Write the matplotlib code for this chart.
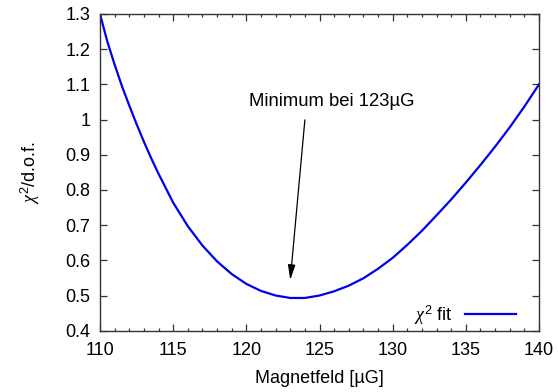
import numpy as np
import matplotlib.pyplot as plt

plt.rcParams['font.family'] = ['Liberation Sans', 'DejaVu Sans']
plt.rcParams['mathtext.fontset'] = 'custom'
plt.rcParams['mathtext.rm'] = 'Liberation Sans'
plt.rcParams['mathtext.it'] = 'Liberation Serif:italic'

# chi^2 per degree of freedom vs. magnetic field
field = [110, 110.5, 111, 111.5, 112, 112.5, 113, 113.5, 114, 115, 116, 117, 118, 119, 120,
         121, 122, 123, 124, 125, 126, 127, 128, 129, 130,
         131, 132, 133, 134, 135, 136, 137, 138, 139, 140]
chi2 = [1.300, 1.222, 1.156, 1.095, 1.040, 0.987, 0.937, 0.890, 0.846, 0.764, 0.697,
        0.642, 0.597, 0.561, 0.533,
        0.513, 0.500, 0.493, 0.493, 0.500, 0.512, 0.528, 0.549, 0.576, 0.607,
        0.644, 0.684, 0.728, 0.773, 0.821, 0.871, 0.923, 0.978, 1.037, 1.100]
x_ticks = [110, 115, 120, 125, 130, 135, 140]
y_ticks = [0.4, 0.5, 0.6, 0.7, 0.8, 0.9, 1.0, 1.1, 1.2, 1.3]
y_labels = ['0.4', '0.5', '0.6', '0.7', '0.8', '0.9', '1', '1.1', '1.2', '1.3']
min_field, min_arrow_tip, min_arrow_tail = 123, 0.544, 0.999

fig = plt.figure(figsize=(5.58, 3.92), dpi=100)
ax = fig.add_axes([0.1792, 0.1564, 0.7868, 0.8079])

ax.plot(field, chi2, color='#0000ee', lw=1.6, label=r'$\chi^2$ fit')

ax.set_xlim(110, 140)
ax.set_ylim(0.4, 1.3)
ax.set_xticks(x_ticks)
ax.set_xticks(np.arange(110, 141, 1), minor=True)
ax.set_yticks(y_ticks)
ax.set_yticklabels(y_labels)

ax.tick_params(which='both', direction='in', top=True, right=True,
               labelsize=13, color='#333333', width=0.9)
ax.tick_params(which='major', length=5, pad=7)
ax.tick_params(which='minor', length=2.5)
ax.tick_params(axis='x', pad=8)
for sp in ax.spines.values():
    sp.set_linewidth(1.0)
    sp.set_color('#333333')

ax.set_xlabel('Magnetfeld [µG]', fontsize=13, labelpad=8)
ax.set_ylabel(r'$\chi^2$/d.o.f.', fontsize=13, labelpad=17)

# label and arrow pointing at the minimum
ax.text(125.86, 1.05, 'Minimum bei 123µG', ha='center', va='center', fontsize=13.3)
ax.annotate('', xy=(min_field, min_arrow_tip), xytext=(min_field + 1.0, min_arrow_tail),
            arrowprops=dict(arrowstyle='-|>,head_length=0.9,head_width=0.22',
                            color='black', lw=0.9, mutation_scale=10,
                            shrinkA=0, shrinkB=0))

leg = ax.legend(loc='lower right', bbox_to_anchor=(0.964, -0.01), borderaxespad=0,
                frameon=False, fontsize=13, markerfirst=False,
                handlelength=2.8, handletextpad=0.7)

fig.savefig('out.png', dpi=100)
